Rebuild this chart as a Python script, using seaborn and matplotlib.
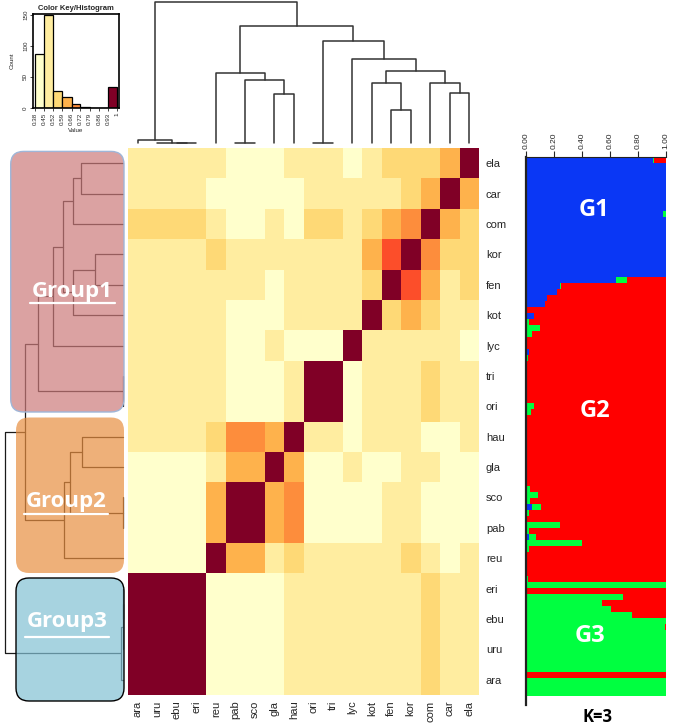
import numpy as np
import pandas as pd
import matplotlib
matplotlib.use('Agg')
import matplotlib.pyplot as plt
from matplotlib.colors import ListedColormap, BoundaryNorm
from matplotlib.patches import FancyBboxPatch
import seaborn as sns

sns.set_style('white')
plt.rcParams['font.family'] = ['Liberation Sans', 'DejaVu Sans']

W, H = 675, 726

# populations in column order (rows are the same list reversed)
pops = ['ara', 'uru', 'ebu', 'eri', 'reu', 'pab', 'sco', 'gla', 'hau',
        'ori', 'tri', 'lyc', 'kot', 'fen', 'kor', 'com', 'car', 'ela']
row_pops = pops[::-1]

# similarity matrix, rows ela..ara (top to bottom), cols ara..ela
sim = [
    [.49, .49, .49, .49, .49, .42, .42, .42, .49, .49, .49, .42, .49, .55, .55, .55, .62, 1.0],  # ela
    [.49, .49, .49, .49, .42, .42, .42, .42, .42, .49, .49, .49, .49, .49, .55, .62, 1.0, .62],  # car
    [.55, .55, .55, .55, .49, .42, .42, .49, .42, .55, .55, .49, .55, .62, .69, 1.0, .62, .55],  # com
    [.49, .49, .49, .49, .55, .49, .49, .49, .49, .49, .49, .49, .62, .76, 1.0, .69, .55, .55],  # kor
    [.49, .49, .49, .49, .49, .49, .49, .42, .49, .49, .49, .49, .55, 1.0, .76, .62, .49, .55],  # fen
    [.49, .49, .49, .49, .49, .42, .42, .42, .49, .49, .49, .49, 1.0, .55, .62, .55, .49, .49],  # kot
    [.49, .49, .49, .49, .49, .42, .42, .49, .42, .42, .42, 1.0, .49, .49, .49, .49, .49, .42],  # lyc
    [.49, .49, .49, .49, .49, .42, .42, .42, .49, 1.0, 1.0, .42, .49, .49, .49, .55, .49, .49],  # tri
    [.49, .49, .49, .49, .49, .42, .42, .42, .49, 1.0, 1.0, .42, .49, .49, .49, .55, .49, .49],  # ori
    [.49, .49, .49, .49, .55, .69, .69, .62, 1.0, .49, .49, .42, .49, .49, .49, .42, .42, .49],  # hau
    [.42, .42, .42, .42, .49, .62, .62, 1.0, .62, .42, .42, .49, .42, .42, .49, .49, .42, .42],  # gla
    [.42, .42, .42, .42, .62, 1.0, 1.0, .62, .69, .42, .42, .42, .42, .49, .49, .42, .42, .42],  # sco
    [.42, .42, .42, .42, .62, 1.0, 1.0, .62, .69, .42, .42, .42, .42, .49, .49, .42, .42, .42],  # pab
    [.42, .42, .42, .42, 1.0, .62, .62, .49, .55, .49, .49, .49, .49, .49, .55, .49, .42, .49],  # reu
    [1.0, 1.0, 1.0, 1.0, .42, .42, .42, .42, .49, .49, .49, .49, .49, .49, .49, .55, .49, .49],  # eri
    [1.0, 1.0, 1.0, 1.0, .42, .42, .42, .42, .49, .49, .49, .49, .49, .49, .49, .55, .49, .49],  # ebu
    [1.0, 1.0, 1.0, 1.0, .42, .42, .42, .42, .49, .49, .49, .49, .49, .49, .49, .55, .49, .49],  # uru
    [1.0, 1.0, 1.0, 1.0, .42, .42, .42, .42, .49, .49, .49, .49, .49, .49, .49, .55, .49, .49],  # ara
]

# colour key
key_edges = [0.38, 0.449, 0.518, 0.587, 0.656, 0.724, 0.793, 0.862, 0.931, 1.0]
key_labels = ['0.38', '0.45', '0.52', '0.59', '0.66', '0.72', '0.79', '0.86', '0.93', '1']
key_colors = ['#ffffcc', '#ffeda0', '#fed976', '#feb24c', '#fd8d3c',
              '#fc4e2a', '#e31a1c', '#bd0026', '#800026']

# hierarchical clustering (leaf ids = column index, new ids from 18 up)
merge_a = [2, 1, 0, 5, 7, 21, 4, 9, 13, 12, 16, 15, 27, 11, 25, 24, 20]
merge_b = [3, 18, 19, 6, 8, 22, 23, 10, 14, 26, 17, 28, 29, 30, 31, 32, 33]
merge_h = [0.0, 0.0, 0.02, 0.0, 0.347, 0.451, 0.499, 0.0, 0.238, 0.428,
           0.356, 0.423, 0.513, 0.594, 0.724, 0.831, 1.0]

# STRUCTURE K=3 ancestry, one entry per individual (red = rest)
blue_q = [0.905, 1.0, 1.0, 1.0, 1.0, 1.0, 1.0, 1.0, 1.0, 0.98,
          1.0, 1.0, 1.0, 1.0, 1.0, 1.0, 1.0, 1.0, 1.0, 1.0,
          0.64, 0.24, 0.22, 0.15, 0.135, 0.0, 0.06, 0.0, 0.0, 0.0,
          0.0, 0.005, 0.02, 0.005, 0.0, 0.01, 0.0, 0.0, 0.005, 0.0,
          0.01, 0.0, 0.0, 0.0, 0.005, 0.0, 0.0, 0.0, 0.01, 0.005,
          0.0, 0.0, 0.0, 0.0, 0.005, 0.0, 0.0, 0.0, 0.04, 0.005,
          0.0, 0.0, 0.0, 0.02, 0.0, 0.0, 0.0, 0.0, 0.0, 0.0,
          0.0, 0.0, 0.0, 0.0, 0.0, 0.0, 0.01, 0.0, 0.0, 0.0,
          0.0, 0.01, 0.0, 0.0, 0.0, 0.0, 0.0, 0.0, 0.0, 0.0]
green_q = [0.01, 0.0, 0.0, 0.0, 0.0, 0.0, 0.0, 0.0, 0.0, 0.02,
           0.0, 0.0, 0.0, 0.0, 0.0, 0.0, 0.0, 0.0, 0.0, 0.0,
           0.08, 0.01, 0.0, 0.0, 0.0, 0.01, 0.0, 0.02, 0.10, 0.045,
           0.005, 0.0, 0.0, 0.01, 0.01, 0.0, 0.005, 0.0, 0.0, 0.01,
           0.0, 0.057, 0.035, 0.0, 0.0, 0.005, 0.0, 0.005, 0.0, 0.0,
           0.0, 0.0, 0.005, 0.0, 0.0, 0.03, 0.085, 0.03, 0.07, 0.015,
           0.01, 0.24, 0.02, 0.05, 0.40, 0.02, 0.0, 0.005, 0.0, 0.0,
           0.015, 1.0, 0.0, 0.695, 0.545, 0.605, 0.745, 1.0, 0.99, 1.0,
           1.0, 0.99, 1.0, 1.0, 1.0, 1.0, 0.0, 1.0, 1.0, 1.0]
struct_ticks = [0.0, 0.2, 0.4, 0.6, 0.8, 1.0]
struct_labels = ['0.00', '0.20', '0.40', '0.60', '0.80', '1.00']


def px_axes(l, t, r, b):
    return fig.add_axes([l / W, 1 - b / H, (r - l) / W, (b - t) / H])


def draw_dendro(ax, orient, color, lw):
    n = len(pops)
    pos = {i: i + 0.5 for i in range(n)}
    hgt = {i: 0.0 for i in range(n)}
    for k, (a, b, h) in enumerate(zip(merge_a, merge_b, merge_h)):
        xs = [pos[a], pos[a], pos[b], pos[b]]
        ys = [hgt[a], h, h, hgt[b]]
        if orient == 'top':
            ax.plot(xs, ys, color=color, lw=lw, clip_on=False)
        else:
            ax.plot(ys, xs, color=color, lw=lw, clip_on=False)
        pos[n + k] = (pos[a] + pos[b]) / 2
        hgt[n + k] = h


fig = plt.figure(figsize=(W / 100, H / 100), dpi=100)

# heatmap
df = pd.DataFrame(sim, index=row_pops, columns=pops)
cmap = ListedColormap(key_colors)
norm = BoundaryNorm(key_edges, cmap.N)
ax_hm = px_axes(128, 148, 479, 695)
sns.heatmap(df, cmap=cmap, norm=norm, cbar=False, ax=ax_hm,
            xticklabels=True, yticklabels=True, linewidths=0)
ax_hm.yaxis.tick_right()
ax_hm.tick_params(axis='y', length=0, pad=5, labelsize=8, labelrotation=0)
ax_hm.tick_params(axis='x', length=0, pad=4, labelsize=8, labelrotation=90)
ax_hm.set_xlabel('')
ax_hm.set_ylabel('')

# column dendrogram
ax_top = px_axes(128, 2.3, 479, 143)
draw_dendro(ax_top, 'top', '#333333', 1.1)
ax_top.set_xlim(0, len(pops))
ax_top.set_ylim(0, 1)
ax_top.axis('off')

# row dendrogram
ax_left = px_axes(5, 148, 123.3, 695)
draw_dendro(ax_left, 'left', '#1a1a1a', 0.9)
ax_left.set_xlim(1, 0)
ax_left.set_ylim(0, len(pops))
ax_left.axis('off')

# colour key / histogram
ax_key = px_axes(33, 14, 119, 108)
vals = np.array(sim).ravel()
sns.histplot(x=vals, bins=key_edges, ax=ax_key, edgecolor='black',
             linewidth=0.9, alpha=1)
for patch, c in zip(ax_key.patches, key_colors):
    patch.set_facecolor(c)
ax_key.set_xlim(0.365, 1.015)
ax_key.set_ylim(0, 151)
ax_key.set_xticks(key_edges)
ax_key.set_xticklabels(key_labels, rotation=90)
ax_key.set_yticks([0, 50, 100, 150])
ax_key.set_yticklabels(['0', '50', '100', '150'], rotation=90, va='center')
ax_key.tick_params(length=2, width=0.6, pad=1.5, labelsize=4.5,
                   bottom=True, left=True, direction='out')
ax_key.set_title('Color Key/Histogram', fontsize=5.5, fontweight='bold', pad=3)
ax_key.set_xlabel('Value', fontsize=4.5, labelpad=2)
ax_key.set_ylabel('Count', fontsize=4.5, labelpad=6)
for sp in ax_key.spines.values():
    sp.set_linewidth(1.2)
    sp.set_color('black')

# STRUCTURE bar plot
ax_st = px_axes(526, 157, 666, 705)
ind = np.arange(len(blue_q))
blue = np.array(blue_q)
green = np.array(green_q)
red = 1 - blue - green
ax_st.barh(ind, blue, height=1.0, color='#0a37f5', linewidth=0, antialiased=False)
ax_st.barh(ind, green, left=blue, height=1.0, color='#00ff40', linewidth=0, antialiased=False)
ax_st.barh(ind, red, left=blue + green, height=1.0, color='#ff0000', linewidth=0, antialiased=False)
ax_st.set_xlim(0, 1)
ax_st.set_ylim(91.0, -0.5)
ax_st.xaxis.tick_top()
ax_st.set_xticks(struct_ticks)
ax_st.set_xticklabels(struct_labels, rotation=90)
ax_st.tick_params(axis='x', top=True, bottom=False, length=4, width=0.8,
                  pad=2, labelsize=6, direction='out')
ax_st.set_yticks([])
ax_st.spines['right'].set_visible(False)
ax_st.spines['bottom'].set_visible(False)
ax_st.spines['left'].set_linewidth(1.6)
ax_st.spines['left'].set_color('#222222')
ax_st.spines['top'].set_linewidth(0.8)
ax_st.spines['top'].set_color('#222222')

# overlay: group boxes and labels (pixel coordinates)
ax_ov = fig.add_axes([0, 0, 1, 1])
ax_ov.set_xlim(0, W)
ax_ov.set_ylim(H, 0)
ax_ov.axis('off')

groups = [
    ('Group1', (10.7, 151.4, 124, 412), '#cc7b7b', '#9fb6d8', 72, 291, (30, 115, 303)),
    ('Group2', (16, 417.5, 124, 573), '#e88f40', 'none', 66, 501, (24, 108, 514)),
    ('Group3', (16, 578, 124, 701), '#82c1d4', 'black', 67, 621, (25, 109, 637)),
]
for label, (x0, y0, x1, y1), fc, ec, tx, ty, (ul0, ul1, uly) in groups:
    box = FancyBboxPatch((x0, y0), x1 - x0, y1 - y0,
                         boxstyle='round,pad=0,rounding_size=13',
                         facecolor=fc, edgecolor='none', alpha=0.7)
    ax_ov.add_patch(box)
    if ec != 'none':
        ax_ov.add_patch(FancyBboxPatch((x0, y0), x1 - x0, y1 - y0,
                                       boxstyle='round,pad=0,rounding_size=13',
                                       facecolor='none', edgecolor=ec, lw=1.0))
    ax_ov.text(tx, ty, label, ha='center', va='center', color='white',
               fontsize=16, fontweight='bold', family=['Open Sans', 'DejaVu Sans'])
    ax_ov.plot([ul0, ul1], [uly, uly], color='white', lw=1.6)

for label, tx, ty in [('G1', 594, 210), ('G2', 595, 411), ('G3', 590, 636)]:
    ax_ov.text(tx, ty, label, ha='center', va='center', color='white',
               fontsize=17, fontweight='bold', family=['Open Sans', 'DejaVu Sans'])

ax_ov.text(598, 717, 'K=3', ha='center', va='center', color='black',
           fontsize=12, fontweight='bold', family=['Open Sans', 'DejaVu Sans'])

fig.savefig('out.png', dpi=100)
